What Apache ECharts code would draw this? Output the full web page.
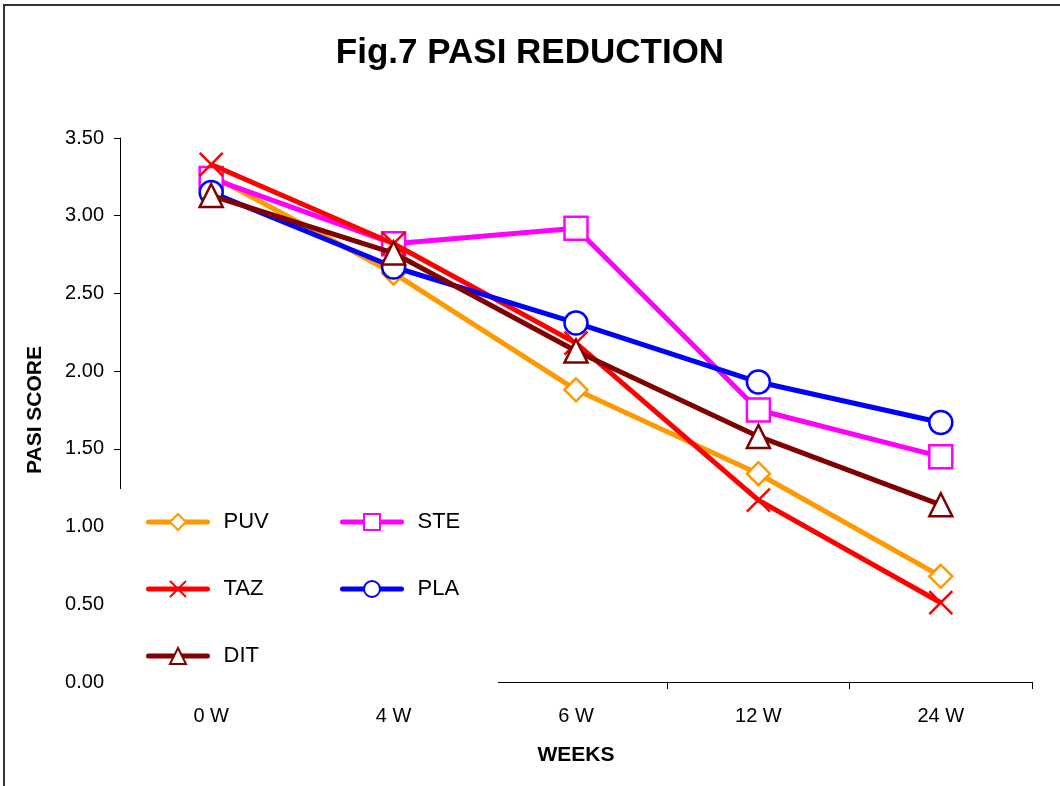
<!DOCTYPE html>
<html>
<head>
<meta charset="utf-8">
<script src="https://cdn.jsdelivr.net/npm/echarts@6/dist/echarts.min.js"></script>
<style>
html,body{margin:0;padding:0;background:#fff;}
#chart{width:1060px;height:786px;}
</style>
</head>
<body>
<div id="chart"></div>
<script>
var categories = ['0 W', '4 W', '6 W', '12 W', '24 W'];
var PUV = [3.26, 2.63, 1.88, 1.34, 0.68];
var STE = [3.24, 2.82, 2.92, 1.75, 1.45];
var TAZ = [3.33, 2.82, 2.18, 1.17, 0.51];
var PLA = [3.15, 2.67, 2.31, 1.93, 1.67];
var DIT = [3.13, 2.76, 2.13, 1.58, 1.14];
var yTicks = [0, 0.5, 1, 1.5, 2, 2.5, 3, 3.5];

var FONT = "'Liberation Sans', Arial, sans-serif";
var X_PATH = 'path://M0,0L24,24M24,0L0,24';

function mk(name, data, color, symbol, z) {
  return {
    name: name,
    type: 'line',
    data: data,
    z: z,
    symbol: symbol,
    symbolSize: 23,
    showAllSymbol: true,
    lineStyle: { color: color, width: 5 },
    itemStyle: { color: '#ffffff', borderColor: color, borderWidth: 2.5 },
    emphasis: { disabled: true },
    animation: false
  };
}

function legendCfg(items, left) {
  return {
    data: items,
    orient: 'vertical',
    left: left,
    top: 511,
    z: 20,
    itemWidth: 59,
    itemHeight: 20,
    itemGap: 45,
    padding: 0,
    lineStyle: { width: 5, cap: 'round' },
    itemStyle: { borderWidth: 2 },
    textStyle: { fontFamily: FONT, fontSize: 22, color: '#000', padding: [0, 0, 0, 11] }
  };
}

var chart = echarts.init(document.getElementById('chart'), null, { renderer: 'canvas' });
var option = {
  backgroundColor: '#ffffff',
  animation: false,
  title: {
    text: 'Fig.7 PASI REDUCTION',
    left: 'center',
    top: 31,
    textStyle: { fontFamily: FONT, fontSize: 35, fontWeight: 'bold', color: '#000' }
  },
  grid: { left: 120, right: 28, top: 138, bottom: 104 },
  xAxis: {
    type: 'category',
    data: categories,
    boundaryGap: true,
    name: 'WEEKS',
    nameLocation: 'middle',
    nameGap: 63,
    nameTextStyle: { fontFamily: FONT, fontSize: 21, fontWeight: 'bold', color: '#000' },
    axisLine: { lineStyle: { color: '#000', width: 1 } },
    axisTick: { show: true, interval: 0, length: 7, lineStyle: { color: '#000', width: 1 } },
    axisLabel: { fontFamily: FONT, fontSize: 20, color: '#000', margin: 24 },
    splitLine: { show: false }
  },
  yAxis: {
    type: 'value',
    min: yTicks[0],
    max: yTicks[yTicks.length - 1],
    interval: 0.5,
    name: 'PASI SCORE',
    nameLocation: 'middle',
    nameGap: 74,
    nameTextStyle: { fontFamily: FONT, fontSize: 21, fontWeight: 'bold', color: '#000' },
    axisLine: { show: true, lineStyle: { color: '#000', width: 1 } },
    axisTick: { show: true, length: 6, lineStyle: { color: '#000' } },
    axisLabel: { fontFamily: FONT, fontSize: 20, color: '#000', margin: 16,
      formatter: function (v) { return v.toFixed(2); } },
    splitLine: { show: false }
  },
  legend: [
    legendCfg(['PUV', 'TAZ', 'DIT'], 146),
    legendCfg(['STE', 'PLA'], 340)
  ],
  graphic: {
    elements: [
      {
        type: 'rect',
        z: 15,
        shape: { x: 112, y: 489, width: 386, height: 200 },
        style: { fill: '#ffffff', stroke: null }
      },
      {
        type: 'rect',
        z: 30,
        shape: { x: 4, y: 5, width: 1100, height: 800 },
        style: { fill: null, stroke: '#333333', lineWidth: 2 }
      }
    ]
  },
  series: [
    mk('PUV', PUV, '#FF9900', 'diamond', 2),
    mk('STE', STE, '#FF00FF', 'rect', 3),
    mk('TAZ', TAZ, '#FF0000', X_PATH, 4),
    mk('PLA', PLA, '#0000FF', 'circle', 5),
    mk('DIT', DIT, '#800000', 'triangle', 6)
  ]
};
chart.setOption(option);
</script>
</body>
</html>
